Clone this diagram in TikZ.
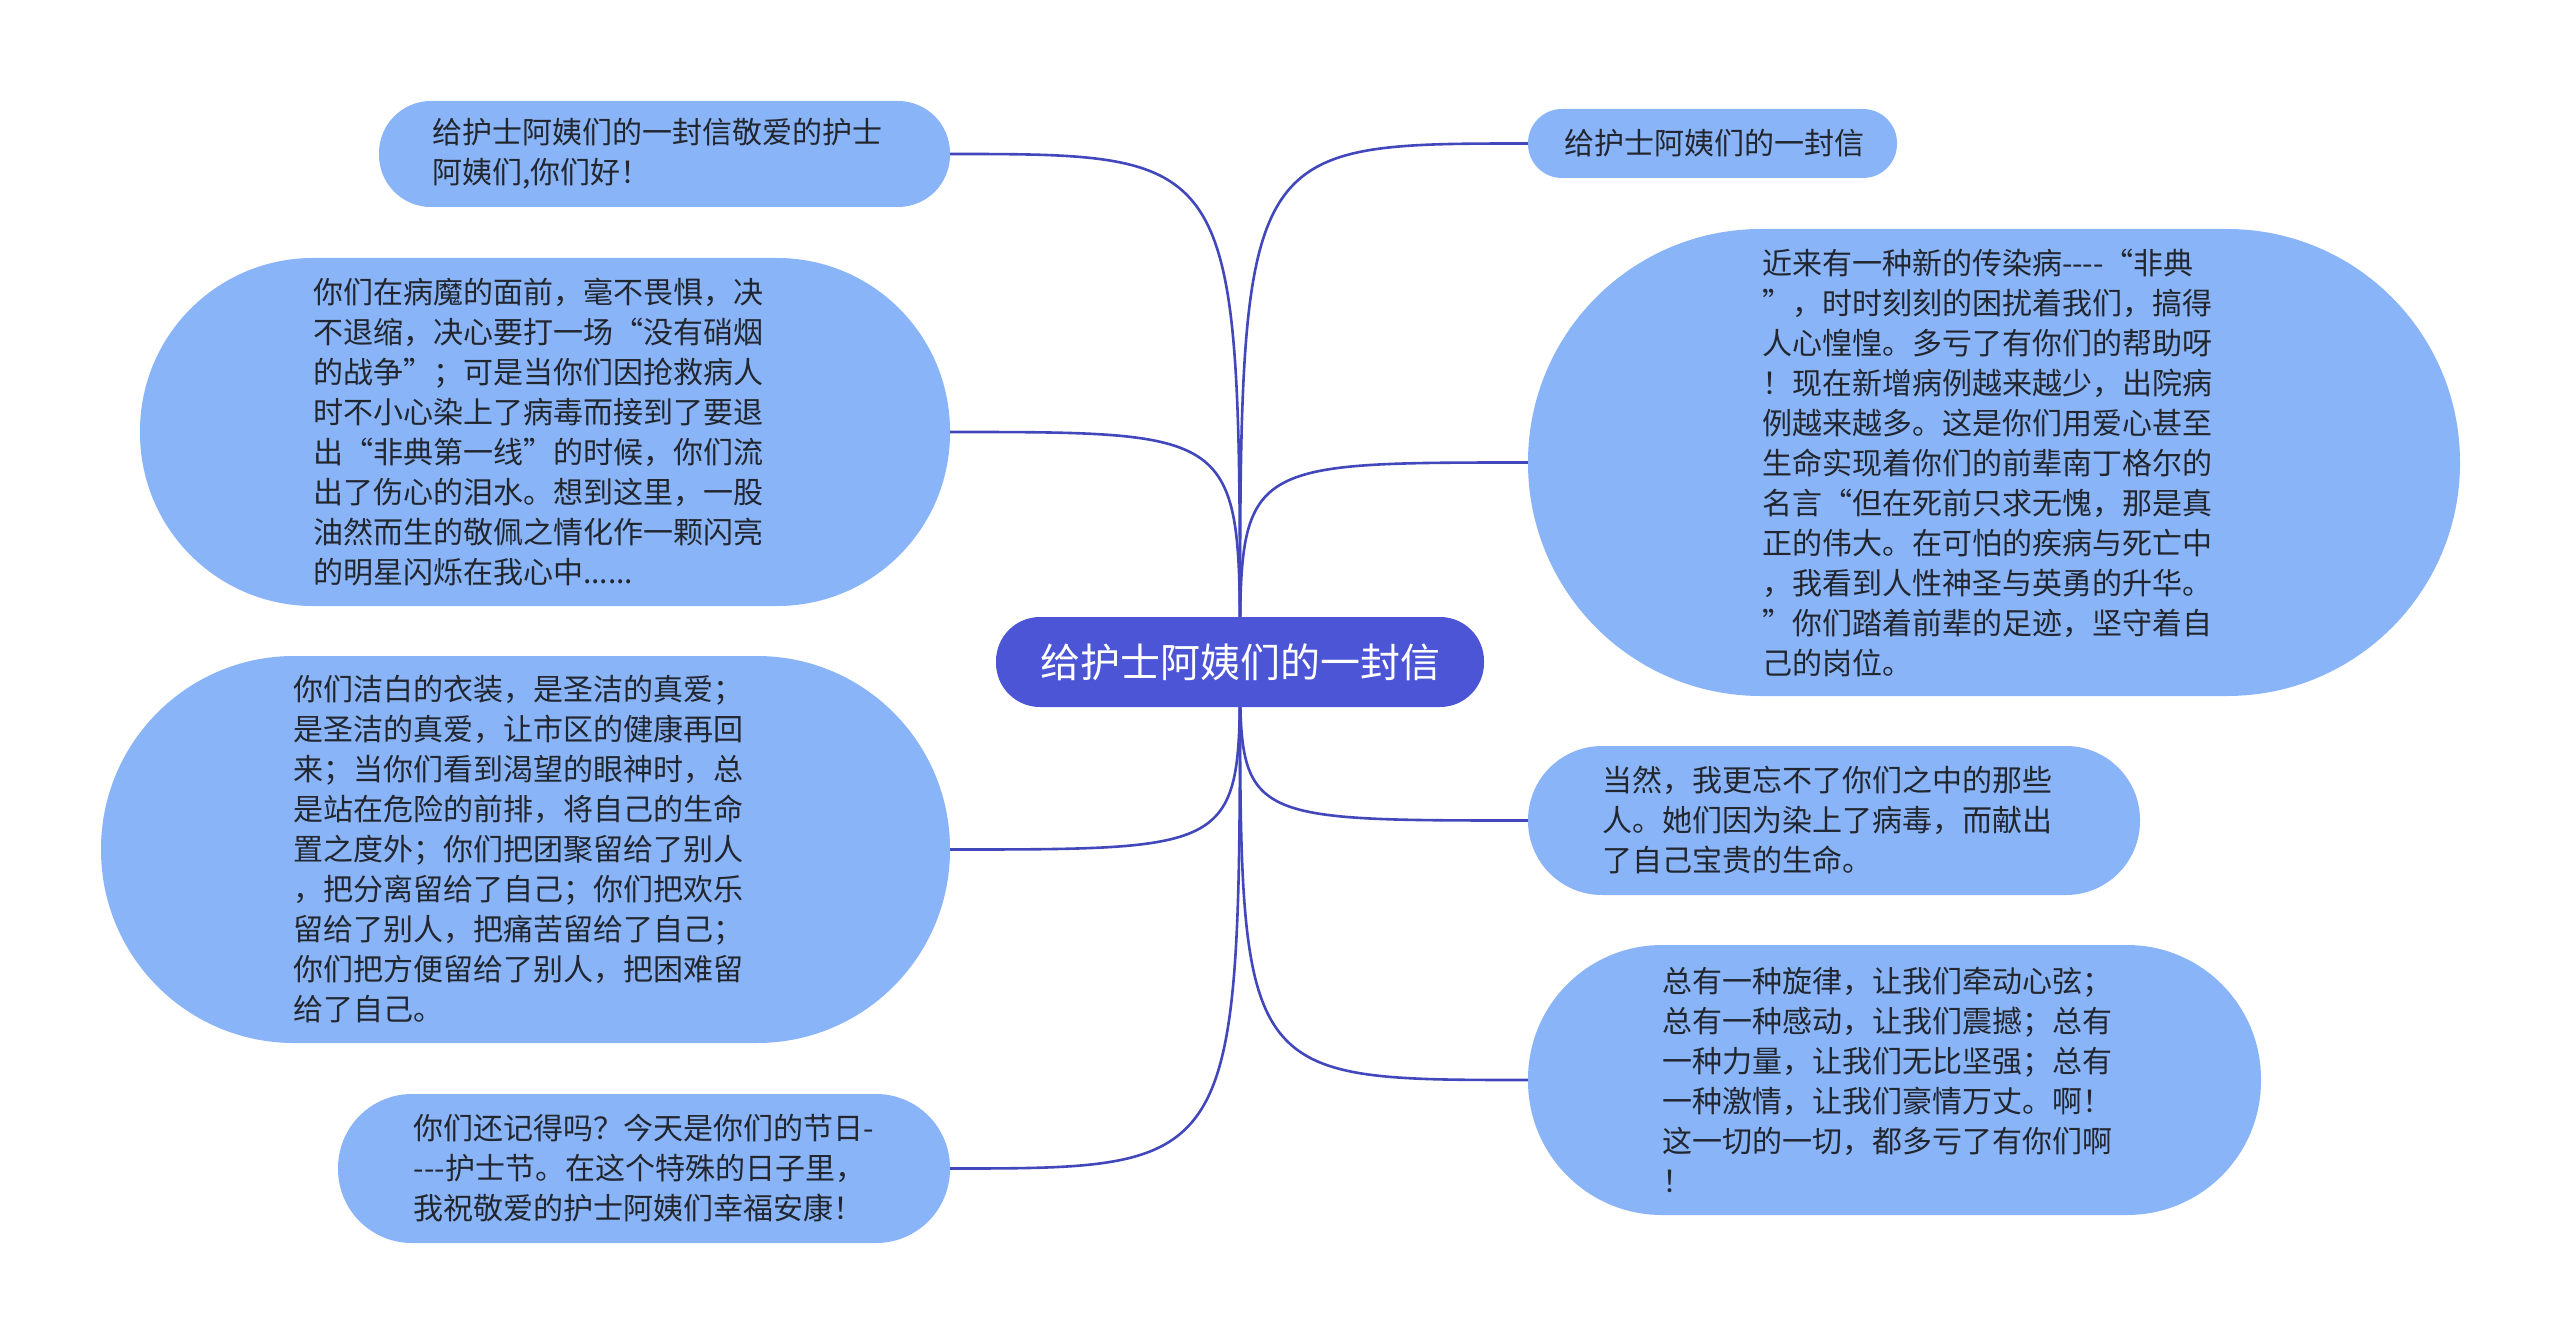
\documentclass[tikz,border=0pt]{standalone}
\usepackage{fontspec}
\setmainfont{Noto Sans CJK SC}[Ligatures=TeXOff]
\definecolor{leafblue}{RGB}{138,180,248}
\definecolor{rootblue}{RGB}{75,85,214}
\definecolor{linkblue}{RGB}{66,72,188}
\definecolor{textdark}{RGB}{34,38,46}
\begin{document}
\begin{tikzpicture}[x=1pt,y=-1pt,
  leafbox/.style={draw=none, fill=leafblue, inner sep=0pt},
  leaftext/.style={text=textdark, align=left, inner sep=0pt,
    font=\fontsize{30}{40}\selectfont},
  root/.style={draw=none, fill=rootblue, text=white, inner sep=0pt,
    font=\fontsize{40}{48}\selectfont, minimum width=488pt, minimum height=90pt, rounded corners=44pt},
  link/.style={draw=linkblue, line width=2.6pt}]
\fill[white] (0,0) rectangle (2560,1343);
\useasboundingbox (0,0) rectangle (2560,1343);

% leaf boxes
\node[leafbox, minimum width=571pt, minimum height=106pt, rounded corners=52pt] (l1) at (664.5,154) {};
\node[leafbox, minimum width=810pt, minimum height=348pt, rounded corners=173pt] (l2) at (545,432) {};
\node[leafbox, minimum width=849pt, minimum height=387pt, rounded corners=193pt] (l3) at (525.5,849.5) {};
\node[leafbox, minimum width=612pt, minimum height=149pt, rounded corners=74pt] (l4) at (644,1168.5) {};
\node[leafbox, minimum width=369pt, minimum height=69pt, rounded corners=34pt] (r1) at (1712.5,143.5) {};
\node[leafbox, minimum width=932pt, minimum height=467pt, rounded corners=233pt] (r2) at (1994,462.5) {};
\node[leafbox, minimum width=612pt, minimum height=149pt, rounded corners=74pt] (r3) at (1834,820.5) {};
\node[leafbox, minimum width=733pt, minimum height=270pt, rounded corners=134pt] (r4) at (1894.5,1080) {};

% connectors from the centre of the root, hidden behind it
\coordinate (rc) at (1240,662);
\draw[link] (rc) .. controls (rc |- l1.east) .. (l1.east);
\draw[link] (rc) .. controls (rc |- l2.east) .. (l2.east);
\draw[link] (rc) .. controls (rc |- l3.east) .. (l3.east);
\draw[link] (rc) .. controls (rc |- l4.east) .. (l4.east);
\draw[link] (rc) .. controls (rc |- r1.west) .. (r1.west);
\draw[link] (rc) .. controls (rc |- r2.west) .. (r2.west);
\draw[link] (rc) .. controls (rc |- r3.west) .. (r3.west);
\draw[link] (rc) .. controls (rc |- r4.west) .. (r4.west);

\node[root] (root) at (rc) {给护士阿姨们的一封信};

% leaf texts
\node[leaftext] (l1t) at ([xshift=-7pt]l1.center)
  {给护士阿姨们的一封信敬爱的护士\\阿姨们,你们好！};

\node[leaftext] (l2t) at ([xshift=-7pt]l2.center)
  {你们在病魔的面前，毫不畏惧，决\\
   不退缩，决心要打一场“没有硝烟\\
   的战争”；可是当你们因抢救病人\\
   时不小心染上了病毒而接到了要退\\
   出“非典第一线”的时候，你们流\\
   出了伤心的泪水。想到这里，一股\\
   油然而生的敬佩之情化作一颗闪亮\\
   的明星闪烁在我心中......};

\node[leaftext] (l3t) at ([xshift=-7pt]l3.center)
  {你们洁白的衣装，是圣洁的真爱；\\
   是圣洁的真爱，让市区的健康再回\\
   来；当你们看到渴望的眼神时，总\\
   是站在危险的前排，将自己的生命\\
   置之度外；你们把团聚留给了别人\\
   ，把分离留给了自己；你们把欢乐\\
   留给了别人，把痛苦留给了自己；\\
   你们把方便留给了别人，把困难留\\
   给了自己。};

\node[leaftext] (l4t) at (l4.center)
  {你们还记得吗？今天是你们的节日-\\
   ---护士节。在这个特殊的日子里，\\
   我祝敬爱的护士阿姨们幸福安康！};

\node[leaftext] (r1t) at ([xshift=2pt]r1.center)
  {给护士阿姨们的一封信};

\node[leaftext] (r2t) at ([xshift=-7pt]r2.center)
  {近来有一种新的传染病----“非典\\
   ”，时时刻刻的困扰着我们，搞得\\
   人心惶惶。多亏了有你们的帮助呀\\
   ！现在新增病例越来越少，出院病\\
   例越来越多。这是你们用爱心甚至\\
   生命实现着你们的前辈南丁格尔的\\
   名言“但在死前只求无愧，那是真\\
   正的伟大。在可怕的疾病与死亡中\\
   ，我看到人性神圣与英勇的升华。\\
   ”你们踏着前辈的足迹，坚守着自\\
   己的岗位。};

\node[leaftext] (r3t) at ([xshift=-7pt]r3.center)
  {当然，我更忘不了你们之中的那些\\
   人。她们因为染上了病毒，而献出\\
   了自己宝贵的生命。};

\node[leaftext] (r4t) at ([xshift=-7pt]r4.center)
  {总有一种旋律，让我们牵动心弦；\\
   总有一种感动，让我们震撼；总有\\
   一种力量，让我们无比坚强；总有\\
   一种激情，让我们豪情万丈。啊！\\
   这一切的一切，都多亏了有你们啊\\
   ！};
\end{tikzpicture}
\end{document}
